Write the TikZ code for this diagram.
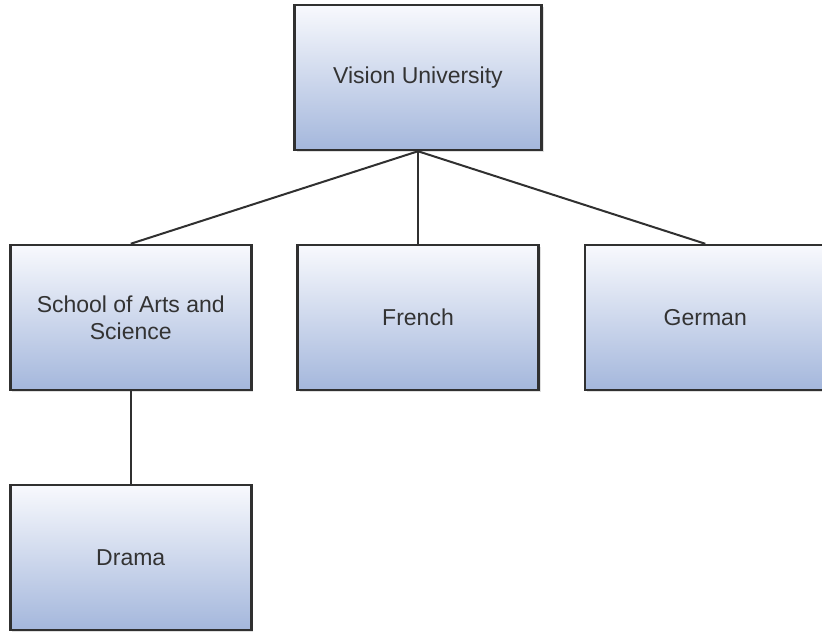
\documentclass[tikz,border=0pt]{standalone}
\usepackage{fontspec}
\setmainfont{Liberation Sans}
\usetikzlibrary{shadows}
\definecolor{boxtop}{HTML}{F8F9FD}
\definecolor{boxbottom}{HTML}{A4B7DC}
\definecolor{boxline}{HTML}{303030}
\definecolor{textgray}{HTML}{333333}
\begin{document}
\begin{tikzpicture}[x=1pt,y=1pt,
  unit/.style={draw=boxline, line width=2.5pt, rectangle,
    top color=boxtop, bottom color=boxbottom,
    drop shadow={shadow xshift=2pt, shadow yshift=-2pt, opacity=0.25},
    minimum width=241pt, minimum height=145pt,
    align=center, text=textgray,
    font=\fontsize{23}{27}\selectfont},
  level distance=240pt,
  level 1/.style={sibling distance=287.25pt},
  edge from parent/.style={draw=boxline, line width=2pt},
  parent anchor=south, child anchor=north]
  \useasboundingbox (0,0) rectangle (822,-632);
  \node[unit, minimum width=247pt] (vision) at (418,-77.5) {Vision University}
    child { node[unit] (arts) {School of Arts and\\Science}
      child { node[unit] (drama) {Drama} } }
    child { node[unit] (french) {French} }
    child { node[unit] (german) {German} };
\end{tikzpicture}
\end{document}
